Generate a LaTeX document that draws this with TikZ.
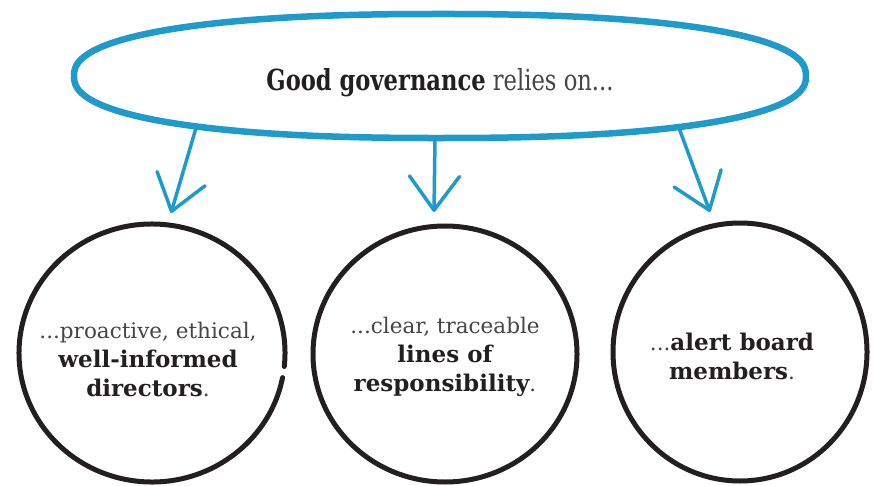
\documentclass[tikz,border=0pt]{standalone}
\usepackage{fontspec}
\setmainfont{DejaVu Serif}
\newfontfamily\headfont[FakeStretch=0.78]{DejaVu Serif}
\usetikzlibrary{arrows.meta,shapes.geometric}
\definecolor{gblue}{HTML}{1E9BCB}
\definecolor{ink}{HTML}{231F20}
\definecolor{soft}{HTML}{454545}
\newcommand\bw[1]{{\fontsize{23}{29}\selectfont\bfseries #1}}
\newcommand\lw[1]{\textcolor{soft}{#1}}
\begin{document}
\begin{tikzpicture}[x=1pt,y=1pt,
  bubble/.style={ellipse, inner sep=0pt,
    minimum width=730pt, minimum height=120pt, text=ink,
    font=\headfont\fontsize{29}{34}\selectfont},
  bubbleline/.style={draw=gblue, line width=6.5pt, line join=round},
  ring/.style={ellipse, draw=ink, line width=5pt, inner sep=0pt},
  ringtext/.style={align=center, text=ink, inner sep=0pt,
    font=\fontsize{21.5}{29}\selectfont},
  ringline/.style={draw=ink, line width=5pt, line cap=round},
  arr/.style={draw=gblue, line width=3.5pt, line cap=round,
    -{Straight Barb[length=34pt,width=50pt,round]}}]
\useasboundingbox (0,0) rectangle (874,485);
% top bubble
\draw[bubbleline] plot[domain=1:361, samples=91, smooth cycle]
  ({440+366*sign(cos(\x))*abs(cos(\x))^0.85}, {409+62*sign(sin(\x))*abs(sin(\x))^0.85});
\node[bubble] (g) at (440,402) {\textbf{Good governance} \lw{relies on...}};
% circles
\node[ring, draw=none, minimum width=266pt, minimum height=258pt] (c1) at (152,132) {};
\draw[ringline] ([shift={(-6:133 and 129)}]c1.center) arc[start angle=-6, delta angle=355, x radius=133, y radius=129];
\node[ring, minimum width=264pt, minimum height=256pt] (c2) at (445,131) {};
\node[ring, minimum width=254pt, minimum height=258pt] (c3) at (740,133) {};
% texts
\node[ringtext] (l1) at (148,126) {\lw{...proactive, ethical,}\\ \bw{well-informed}\\ \bw{directors}\lw{.}};
\node[ringtext] (l2) at (445,128) {\lw{...clear, traceable}\\ \bw{lines of}\\ \bw{responsibility}\lw{.}};
\node[ringtext] (l3) at (732,129) {\lw{...}\bw{alert board}\\ \bw{members}\lw{.}};
% arrows
\coordinate (s1) at (196,357);
\coordinate (s2) at (435,347);
\coordinate (s3) at (679,357);
\coordinate (t1) at (171,272);
\coordinate (t2) at (434,273);
\coordinate (t3) at (710,273);
\draw[arr] (s1) -- (t1);
\draw[arr] (s2) -- (t2);
\draw[arr] (s3) -- (t3);
\end{tikzpicture}
\end{document}
